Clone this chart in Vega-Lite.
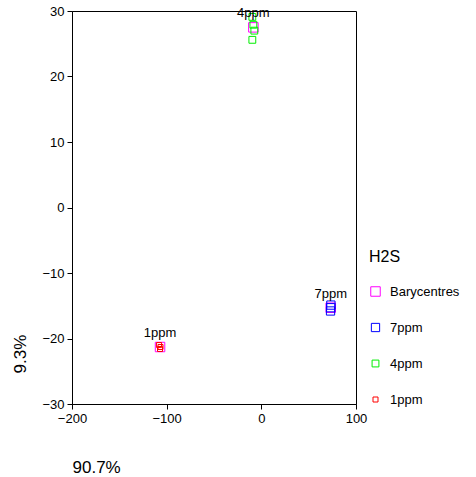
{
  "$schema": "https://vega.github.io/schema/vega-lite/v6.json",
  "width": 284,
  "height": 393,
  "autosize": "none",
  "padding": {"left": 72, "top": 11, "right": 120, "bottom": 73},
  "background": "white",
  "config": {
    "font": "Liberation Sans",
    "view": {"stroke": "black", "strokeWidth": 1},
    "axis": {
      "grid": false,
      "domainColor": "black",
      "tickColor": "black",
      "labelColor": "black",
      "labelFontSize": 13,
      "labelFlush": false,
      "tickSize": 5,
      "titleFontSize": 17,
      "titleFontWeight": "normal",
      "titleColor": "black"
    },
    "legend": {
      "titleFontSize": 16,
      "titleFontWeight": "normal",
      "labelFontSize": 13,
      "titleColor": "black",
      "labelColor": "black"
    }
  },
  "data": {
    "values": [
      {"x": -107, "y": -21.3, "group": "Barycentres", "label": "1ppm"},
      {"x": -8.4, "y": 27.5, "group": "Barycentres", "label": "4ppm"},
      {"x": 73.3, "y": -15.3, "group": "Barycentres", "label": "7ppm"},
      {"x": 73.5, "y": -14.9, "group": "7ppm"},
      {"x": 73.3, "y": -15.3, "group": "7ppm"},
      {"x": 73.1, "y": -15.8, "group": "7ppm"},
      {"x": -9.5, "y": 29.1, "group": "4ppm"},
      {"x": -8.4, "y": 27.9, "group": "4ppm"},
      {"x": -7.4, "y": 27.0, "group": "4ppm"},
      {"x": -9.5, "y": 25.6, "group": "4ppm"},
      {"x": -108, "y": -21.0, "group": "1ppm"},
      {"x": -106.5, "y": -21.3, "group": "1ppm"},
      {"x": -107, "y": -21.6, "group": "1ppm"}
    ]
  },
  "layer": [
    {
      "mark": {"type": "point", "shape": "square", "filled": false, "strokeWidth": 1, "opacity": 1},
      "encoding": {
        "x": {
          "field": "x", "type": "quantitative",
          "scale": {"domain": [-200, 100], "nice": false, "zero": false},
          "axis": {"values": [-200, -100, 0, 100], "title": "90.7%", "titleAnchor": null, "titleX": 0, "titleY": 63, "titleAlign": "left", "titleBaseline": "middle", "labelPadding": 3}
        },
        "y": {
          "field": "y", "type": "quantitative",
          "scale": {"domain": [-30, 30], "nice": false, "zero": false},
          "axis": {"values": [-30, -20, -10, 0, 10, 20, 30], "title": "9.3%", "titleAnchor": null, "titleX": -52, "titleY": 362, "titleAngle": 270, "titleAlign": "left", "titleBaseline": "middle", "labelPadding": 3}
        },
        "color": {
          "field": "group", "type": "nominal",
          "scale": {"domain": ["Barycentres", "7ppm", "4ppm", "1ppm"], "range": ["#ff00ff", "#0000ff", "#00ee00", "#ff0000"]},
          "legend": {"title": "H2S", "orient": "none", "legendX": 297, "legendY": 238, "titlePadding": 20, "rowPadding": 22, "labelOffset": 8, "symbolStrokeWidth": 1}
        },
        "shape": {
          "field": "group", "type": "nominal",
          "scale": {"domain": ["Barycentres", "7ppm", "4ppm", "1ppm"], "range": ["square", "square", "square", "square"]}
        },
        "size": {
          "field": "group", "type": "nominal",
          "scale": {"domain": ["Barycentres", "7ppm", "4ppm", "1ppm"], "range": [90, 25, 25, 25]}
        }
      }
    },
    {
      "transform": [{"filter": "datum.group === 'Barycentres'"}],
      "mark": {"type": "text", "dy": -14, "fontSize": 13, "color": "black"},
      "encoding": {
        "x": {"field": "x", "type": "quantitative"},
        "y": {"field": "y", "type": "quantitative"},
        "text": {"field": "label", "type": "nominal"}
      }
    }
  ]
}
